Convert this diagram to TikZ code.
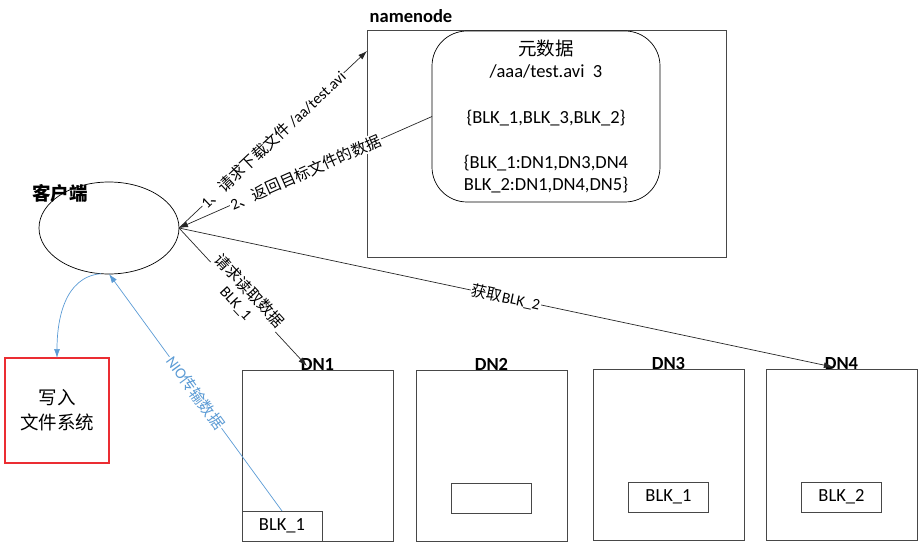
\documentclass[tikz,border=0pt]{standalone}
\usepackage{fontspec}
\setmainfont{Carlito}
\newfontfamily\cjk{Noto Sans CJK SC}
\usepackage{tikz}
\usetikzlibrary{math,arrows.meta,shapes.geometric,positioning}

\definecolor{nioblue}{RGB}{91,155,213}
\definecolor{fsred}{RGB}{235,45,50}

\begin{document}
\begin{tikzpicture}[x=1pt,y=-1pt,
    every node/.style={font=\fontsize{18.5}{22.6}\selectfont, inner sep=0pt, outer sep=0pt},
    box/.style={draw=black!72, line width=0.9pt, rectangle},
    dnbox/.style={box, minimum width=\dnW pt, minimum height=\dnH pt, anchor=north west},
    blkbox/.style={box, minimum width=\blkW pt, minimum height=\blkH pt},
    title/.style={font=\fontsize{18.5}{22.6}\selectfont\bfseries, anchor=base},
    link/.style={draw=black!85, line width=0.7pt, -{Latex[length=9pt,width=6pt]}},
    nio/.style={draw=nioblue, line width=0.7pt, -{Latex[length=9pt,width=6pt]}},
    linklabel/.style={font=\fontsize{15.5}{18}\selectfont, fill=white, inner sep=1pt, sloped, midway}]
	\tikzmath{
		\dnW = 151; \dnH = 171;
		\blkW = 80; \blkH = 30;
	}
    \useasboundingbox (0,0) rectangle (923,553);

    % client and namenode
    \node[draw, ellipse, line width=0.7pt, minimum width=140pt, minimum height=92pt] (client) at (109,228) {};
    \node[title, font=\fontsize{18.5}{22.6}\selectfont\bfseries\cjk] (clientlbl) at (60,201) {客户端};

    \node[box, minimum width=359pt, minimum height=227pt] (nn) at (546.5,143.5) {};
    \node[title] (nnlbl) at (411,23) {namenode};
    \node[draw, rounded corners=35pt, line width=0.7pt, minimum width=228pt, minimum height=171pt, align=center] (meta) at (546,116.5)
        {{\cjk 元数据}\\ /aaa/test.avi~~3\\[22.6pt] \{BLK\_1,BLK\_3,BLK\_2\}\\[22.6pt] \{BLK\_1:DN1,DN3,DN4\\ BLK\_2:DN1,DN4,DN5\}};

    \node[rectangle, draw=fsred, line width=1.2pt, minimum width=104pt, minimum height=105pt, align=center,
        font=\fontsize{18.5}{25}\selectfont\cjk] (fs) at (57,410.5) {写入\\文件系统};

    % datanodes
    \node[dnbox] (dn1) at (242,370) {};
    \node[dnbox] (dn2) at (416,370) {};
    \node[dnbox] (dn3) at (593,369) {};
    \node[dnbox] (dn4) at (766,369) {};
    \foreach \i in {1,...,4}
        \node[title] (dn\i lbl) at (dn\i.north) {DN\i};

    \node[blkbox, above right=0pt of dn1.south west] (blk1) {BLK\_1};
    \node[blkbox, above=28pt of dn2.south] (blk2) {};
    \node[blkbox, above=28pt of dn3.south] (blk3) {BLK\_1};
    \node[blkbox, above=28pt of dn4.south] (blk4) {BLK\_2};

    \draw[link] (client.east) -- node[linklabel] {1{\cjk 、请求下载文件} /aa/test.avi} ([yshift=-21pt]nn.north west);
    \draw[link] (meta.west) -- node[linklabel] {2{\cjk 、返回目标文件的数据}} (client.east);
    \draw[link] (client.east) -- node[linklabel, align=center] {{\cjk 请求读取数据}\\BLK\_1} ([xshift=6pt,yshift=-8pt]dn1lbl.north west);
    \draw[link] (client.east) -- node[linklabel] {{\cjk 获取}BLK\_2} ([xshift=8pt,yshift=2pt]dn4lbl.base west);

    \draw[nio] (client.260) to[out=185,in=90] (fs.north);
    \draw[nio] (blk1.north) -- node[linklabel, text=nioblue] {NIO{\cjk 传输数据}} (client.south);
\end{tikzpicture}
\end{document}
